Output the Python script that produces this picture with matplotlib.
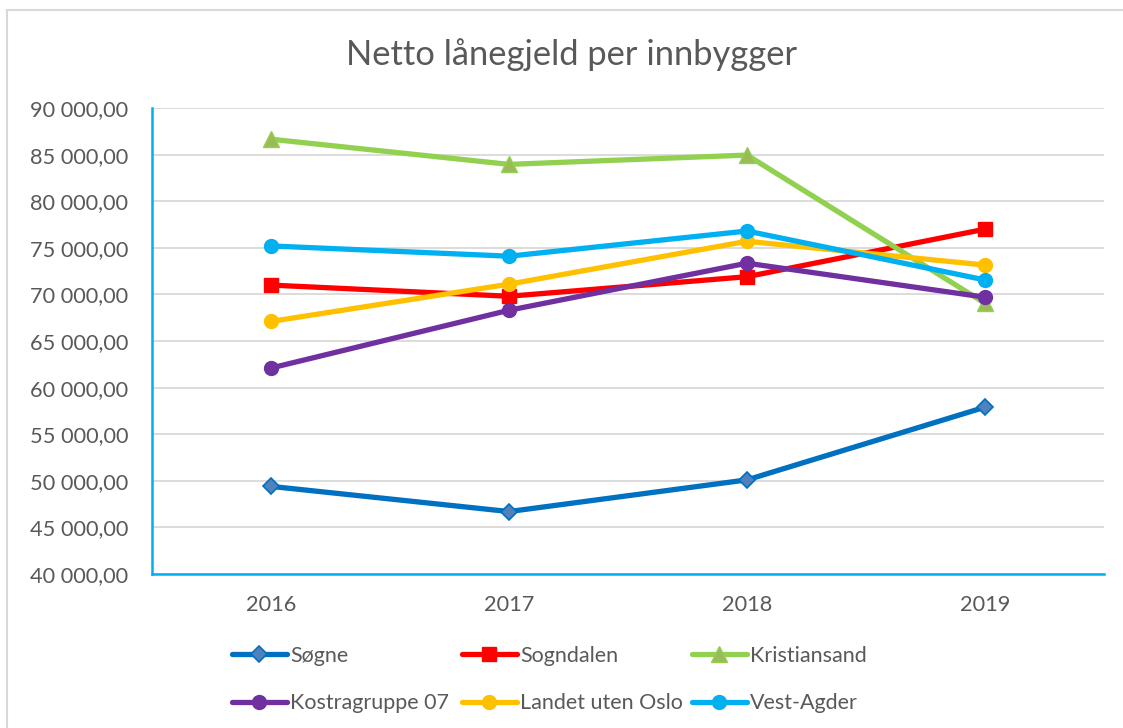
import matplotlib
matplotlib.use("Agg")
import matplotlib.pyplot as plt
from matplotlib.ticker import FuncFormatter, MultipleLocator
from matplotlib.patches import Rectangle

# ── Data ──────────────────────────────────────────────────────────────────────
years = ["2016", "2017", "2018", "2019"]

sogne = [49400, 46700, 50100, 57900]
sogndalen = [71000, 69800, 71900, 77000]
kristiansand = [86650, 83950, 84950, 69050]
kostragruppe = [62100, 68300, 73350, 69700]
landet = [67100, 71100, 75700, 73150]
vest_agder = [75200, 74100, 76800, 71550]

TEXT = "#595959"
FONT = "Lato"

series = [
    ("Søgne", sogne, dict(color="#0070C0", marker="D", ms=8,
                          mfc="#4F81BD", mec="#0070C0", mew=1.2)),
    ("Sogndalen", sogndalen, dict(color="#FF0000", marker="s", ms=10,
                                  mfc="#FF0000", mec="#FF0000")),
    ("Kristiansand", kristiansand, dict(color="#92D050", marker="^", ms=11,
                                        mfc="#9BBB59", mec="#92D050")),
    ("Kostragruppe 07", kostragruppe, dict(color="#7030A0", marker="o", ms=10,
                                           mfc="#7030A0", mec="#7030A0")),
    ("Landet uten Oslo", landet, dict(color="#FFC000", marker="o", ms=10,
                                      mfc="#FFC000", mec="#FFC000")),
    ("Vest-Agder", vest_agder, dict(color="#00B0F0", marker="o", ms=10,
                                    mfc="#00B0F0", mec="#00B0F0")),
]

fig = plt.figure(figsize=(11.23, 7.28), dpi=100)
fig.patch.set_facecolor("white")

# chart frame (light gray, runs off the right/bottom edge)
fig.add_artist(Rectangle((7 / 1123, -0.05), 1.2, 1 - 10 / 728 + 0.05,
                         transform=fig.transFigure, fill=False,
                         edgecolor="#D9D9D9", lw=1.5))

ax = fig.add_axes([152 / 1123, 1 - 574 / 728, 952 / 1123, 466 / 728])

x = list(range(len(years)))
handles = {}
for name, vals, st in series:
    (ln,) = ax.plot(x, vals, lw=3.8, solid_capstyle="round",
                    label=name, zorder=3, **st)
    handles[name] = ln

ax.set_xlim(-0.5, 3.5)
ax.set_ylim(40000, 90000)
ax.yaxis.set_major_locator(MultipleLocator(5000))
ax.yaxis.set_major_formatter(
    FuncFormatter(lambda v, p: f"{int(v):,}".replace(",", " ") + ",00"))
ax.set_xticks(x)
ax.set_xticklabels(years)

ax.grid(axis="y", color="#D9D9D9", lw=1.3)
ax.set_axisbelow(True)
for s in ("top", "right"):
    ax.spines[s].set_visible(False)
for s in ("left", "bottom"):
    ax.spines[s].set_color("#00B0F0")
    ax.spines[s].set_linewidth(1.8)
ax.tick_params(length=0, labelsize=15.7, colors=TEXT)
ax.tick_params(axis="y", pad=17)
ax.tick_params(axis="x", pad=15)
for lab in ax.get_xticklabels() + ax.get_yticklabels():
    lab.set_fontfamily(FONT)

fig.text(572 / 1123, 1 - 55 / 728, "Netto lånegjeld per innbygger",
         ha="center", va="center", fontsize=24.8, color=TEXT, family=FONT)

# legend: three equal-pitch columns, filled row by row
columns = [["Søgne", "Kostragruppe 07"],
           ["Sogndalen", "Landet uten Oslo"],
           ["Kristiansand", "Vest-Agder"]]
for i, col in enumerate(columns):
    leg = fig.legend([handles[n] for n in col], col,
                     loc="center left",
                     bbox_to_anchor=((232 + 230 * i) / 1123, 1 - 679.5 / 728),
                     frameon=False, handlelength=2.55, handletextpad=0.14,
                     borderpad=0, borderaxespad=0, labelspacing=1.3,
                     prop=dict(family=FONT, size=15.5))
    for t in leg.get_texts():
        t.set_color(TEXT)

fig.savefig("out.png", dpi=100, facecolor="white")
